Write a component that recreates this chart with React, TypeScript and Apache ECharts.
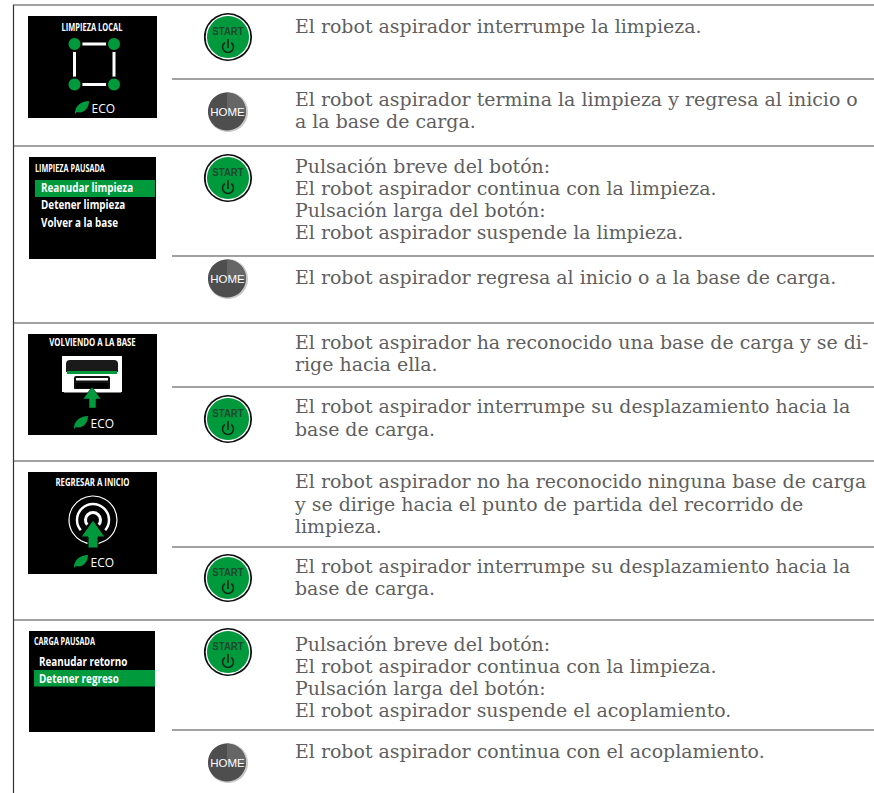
import React, { useEffect, useRef } from "react";
import * as echarts from "echarts";

const descriptionLines = [
  "El robot aspirador interrumpe la limpieza.",
  "El robot aspirador termina la limpieza y regresa al inicio o",
  "a la base de carga.",
  "Pulsación breve del botón:",
  "El robot aspirador continua con la limpieza.",
  "Pulsación larga del botón:",
  "El robot aspirador suspende la limpieza.",
  "El robot aspirador regresa al inicio o a la base de carga.",
  "El robot aspirador ha reconocido una base de carga y se di-",
  "rige hacia ella.",
  "El robot aspirador interrumpe su desplazamiento hacia la",
  "base de carga.",
  "El robot aspirador no ha reconocido ninguna base de carga",
  "y se dirige hacia el punto de partida del recorrido de",
  "limpieza.",
  "El robot aspirador interrumpe su desplazamiento hacia la",
  "base de carga.",
  "Pulsación breve del botón:",
  "El robot aspirador continua con la limpieza.",
  "Pulsación larga del botón:",
  "El robot aspirador suspende el acoplamiento.",
  "El robot aspirador continua con el acoplamiento.",
];
const lineCentres = [27, 100, 122, 167, 189, 211, 233, 278, 343, 365, 407, 430, 482, 505, 527, 567, 589, 645, 667, 689, 711, 752];
const fullRules = [5, 146, 323, 461, 620];
const cellRules = [79, 256, 387, 547, 730];
const startButtons = [37, 178, 419, 578, 652];
const homeButtons = [112, 279, 763];

const GREEN = "#009a3d";
const TEXT = "#5f5f5f";
const RULE = "#444444";
const SERIF = "DejaVu Serif";
const SANS = "Open Sans";
const ARIAL = "Liberation Sans";

const rad = (d: number) => (d * Math.PI) / 180;

function label(text: string, x: number, y: number, size: number, opts: any = {}) {
  return {
    type: "text",
    x,
    y,
    scaleX: opts.scaleX ?? 1,
    style: {
      text,
      x: 0,
      y: 0,
      fill: opts.fill ?? "#fff",
      font: `${opts.weight ?? "bold"} ${size}px "${opts.family ?? SANS}"`,
      textAlign: opts.align ?? "left",
      textVerticalAlign: "middle",
    },
  };
}
const rect = (x: number, y: number, width: number, height: number, fill: string, r: any = 0) => ({
  type: "rect",
  shape: { x, y, width, height, r },
  style: { fill },
});
const poly = (points: number[][], fill: string, extra: any = {}) => ({
  type: "polygon",
  shape: { points },
  style: { fill, ...extra },
});

function eco(x: number, y: number) {
  return [
    { type: "ecoLeaf", x, y, style: { fill: GREEN } },
    label("ECO", x + 9.5, y + 1, 13, { weight: "normal", scaleX: 0.92 }),
  ];
}

function startButton(cy: number) {
  const cx = 228;
  return [
    { type: "circle", shape: { cx, cy, r: 23.2 }, style: { fill: "#fff", stroke: "#111", lineWidth: 1.8 } },
    { type: "circle", shape: { cx, cy, r: 21 }, style: { fill: GREEN } },
    label("START", cx, cy - 6, 10.5, { family: ARIAL, weight: "bold", fill: "#1d4a2e", align: "center", scaleX: 0.92 }),
    {
      type: "arc",
      shape: { cx, cy: cy + 10, r: 5.5, startAngle: rad(-55), endAngle: rad(235), clockwise: true },
      style: { stroke: "#0a2a18", fill: "none", lineWidth: 1.6 },
    },
    { type: "line", shape: { x1: cx, y1: cy + 2, x2: cx, y2: cy + 11 }, style: { stroke: "#0a2a18", lineWidth: 1.6 } },
  ];
}

function homeButton(cy: number) {
  const cx = 228;
  return [
    { type: "circle", shape: { cx, cy, r: 20 }, style: { fill: "#c8c8c8" } },
    { type: "circle", shape: { cx: cx - 1, cy: cy - 0.5, r: 19 }, style: { fill: "#4e4e4e" } },
    {
      type: "sector",
      shape: { cx: cx - 1, cy: cy - 0.5, r: 19, r0: 0, startAngle: rad(-90), endAngle: rad(5) },
      style: { fill: "#666" },
    },
    label("HOME", cx - 0.5, cy, 11.5, { family: ARIAL, weight: "normal", fill: "#fff", align: "center" }),
  ];
}

function buildElements() {
  const els: any[] = [];
  els.push({ type: "line", shape: { x1: 13.5, y1: 5, x2: 13.5, y2: 793 }, style: { stroke: "#333", lineWidth: 1.2 } });
  fullRules.forEach((y) =>
    els.push({ type: "line", shape: { x1: 13, y1: y, x2: 874, y2: y }, style: { stroke: RULE, lineWidth: 1.2 } }),
  );
  cellRules.forEach((y) =>
    els.push({ type: "line", shape: { x1: 172, y1: y, x2: 874, y2: y }, style: { stroke: RULE, lineWidth: 1.2 } }),
  );
  descriptionLines.forEach((t, i) =>
    els.push(label(t, 295, lineCentres[i], 18.5, { family: SERIF, weight: "normal", fill: TEXT, scaleX: 1.024 })),
  );
  startButtons.forEach((y) => els.push(...startButton(y)));
  homeButtons.forEach((y) => els.push(...homeButton(y)));

  // screen 1
  els.push(rect(28, 16, 129, 102, "#000"));
  els.push(label("LIMPIEZA LOCAL", 92, 26.5, 11, { align: "center", scaleX: 0.68 }));
  els.push({
    type: "rect",
    shape: { x: 74.5, y: 44, width: 39.5, height: 40.5 },
    style: { fill: "none", stroke: "#fff", lineWidth: 3 },
  });
  [[74.5, 44], [114, 44], [74.5, 84.5], [114, 84.5]].forEach(([cx, cy]) => {
    els.push({ type: "circle", shape: { cx, cy, r: 8 }, style: { fill: "#000" } });
    els.push({ type: "circle", shape: { cx, cy, r: 6 }, style: { fill: GREEN } });
  });
  els.push(...eco(82, 107));

  // screen 2
  els.push(rect(29, 157, 127, 102, "#000"));
  els.push(label("LIMPIEZA PAUSADA", 35, 167.5, 11, { scaleX: 0.66 }));
  els.push(rect(35, 180, 120, 17, GREEN));
  els.push(label("Reanudar limpieza", 41, 187, 13, { scaleX: 0.76 }));
  els.push(label("Detener limpieza", 41, 204, 13, { scaleX: 0.76 }));
  els.push(label("Volver a la base", 41, 221.5, 13, { scaleX: 0.76 }));

  // screen 3
  els.push(rect(28, 334, 129, 101, "#000"));
  els.push(label("VOLVIENDO A LA BASE", 92.5, 342, 10, { align: "center", scaleX: 0.78 }));
  els.push(rect(62, 356, 60, 36, "#fff"));
  els.push(rect(66, 360, 52, 12, "#1a1a1a", [4, 4, 0, 0]));
  els.push(rect(67, 371, 50, 3, GREEN));
  els.push(rect(74, 376, 36, 14, "#111", 2));
  els.push(rect(76, 378, 32, 2.5, "#fff"));
  els.push(rect(76, 383, 32, 5, "#000"));
  els.push(rect(64, 389, 57, 3.5, "#fff"));
  els.push(
    poly([[92, 387], [101, 399], [96, 399], [96, 408], [89, 408], [89, 399], [83, 399]], GREEN, { stroke: "#000", lineWidth: 0.5 }),
  );
  els.push(...eco(81, 422));

  // screen 4
  els.push(rect(28, 472, 129, 102, "#000"));
  els.push(label("REGRESAR A INICIO", 92.5, 482, 10, { align: "center", scaleX: 0.78 }));
  els.push({ type: "circle", shape: { cx: 93, cy: 520, r: 24 }, style: { fill: "none", stroke: "#fff", lineWidth: 1.2 } });
  els.push({
    type: "arc",
    shape: { cx: 93, cy: 520, r: 16, startAngle: rad(140), endAngle: rad(40), clockwise: true },
    style: { fill: "none", stroke: "#fff", lineWidth: 2.5 },
  });
  els.push({
    type: "arc",
    shape: { cx: 93, cy: 520, r: 7.5, startAngle: rad(140), endAngle: rad(40), clockwise: true },
    style: { fill: "none", stroke: "#fff", lineWidth: 3 },
  });
  els.push(
    poly([[93, 520], [105, 537], [98, 537], [98, 548], [88, 548], [88, 537], [81, 537]], GREEN, { stroke: "#000", lineWidth: 1 }),
  );
  els.push(...eco(81, 561));

  // screen 5
  els.push(rect(29, 631, 126, 101, "#000"));
  els.push(label("CARGA PAUSADA", 34, 640.5, 11, { scaleX: 0.66 }));
  els.push(label("Reanudar retorno", 39, 660.5, 13, { scaleX: 0.76 }));
  els.push(rect(34, 670, 121, 16.5, GREEN));
  els.push(label("Detener regreso", 39, 677.5, 13, { scaleX: 0.76 }));
  return els;
}

export default function App() {
  const ref = useRef<HTMLDivElement>(null);
  useEffect(() => {
    document.body.style.margin = "0";
    echarts.graphic.registerShape(
      "ecoLeaf",
      echarts.graphic.extendPath("M-7 6 C-7 -1 -1 -6 7 -6 C7 2 1 7 -5 5 L-7 7 Z", {}) as any,
    );
    const chart = echarts.init(ref.current!, undefined, { renderer: "svg" });
    chart.setOption({
      animation: false,
      backgroundColor: "#fff",
      graphic: { elements: buildElements() },
    });
    return () => chart.dispose();
  }, []);
  return <div ref={ref} style={{ position: "absolute", left: 0, top: 0, width: 874, height: 793 }} />;
}
